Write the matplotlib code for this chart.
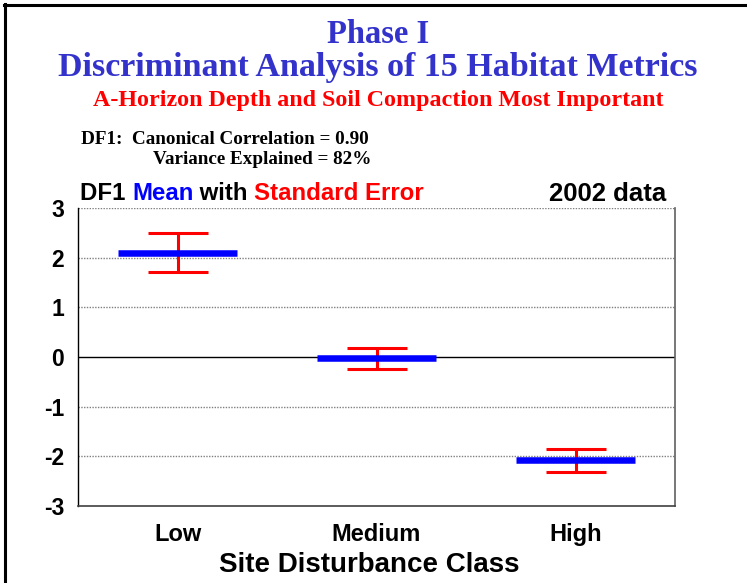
import matplotlib
matplotlib.use("Agg")
import matplotlib.pyplot as plt
from matplotlib.lines import Line2D

categories = ["Low", "Medium", "High"]
means = [2.10, -0.03, -2.08]
std_errors = [0.39, 0.22, 0.23]
yticks = [-3, -2, -1, 0, 1, 2, 3]

W, H = 747, 583
fig = plt.figure(figsize=(W / 100, H / 100), dpi=100)
fig.patch.set_facecolor("white")

def fx(px):
    return px / W

def fy(py):
    return 1 - py / H

serif = "Liberation Serif"
sans = "Liberation Sans"
title_blue = "#3333CC"

# border
fig.add_artist(Line2D([fx(5), fx(5)], [fy(4), 0], color="black", lw=2.2, transform=fig.transFigure))
fig.add_artist(Line2D([fx(4), 1], [fy(5), fy(5)], color="black", lw=2.2, transform=fig.transFigure))

fig.text(fx(378), fy(43), "Phase I", ha="center", va="baseline", family=serif,
         weight="bold", size=23.5, color=title_blue)
fig.text(fx(378), fy(76), "Discriminant Analysis of 15 Habitat Metrics", ha="center",
         va="baseline", family=serif, weight="bold", size=24.5, color=title_blue)
fig.text(fx(378), fy(106), "A-Horizon Depth and Soil Compaction Most Important",
         ha="center", va="baseline", family=serif, weight="bold", size=17.3, color="red")
fig.text(fx(81), fy(144), "DF1:  Canonical Correlation = 0.90", ha="left",
         va="baseline", family=serif, weight="bold", size=13.8, color="black")
fig.text(fx(153), fy(164), "Variance Explained = 82%", ha="left",
         va="baseline", family=serif, weight="bold", size=13.8, color="black")

# mixed color header
fig.canvas.draw()
renderer = fig.canvas.get_renderer()
x = fx(80)
for part, col in [("DF1 ", "black"), ("Mean", "blue"), (" with ", "black"),
                  ("Standard Error", "red")]:
    t = fig.text(x, fy(200), part, ha="left", va="baseline", family=sans,
                 weight="bold", size=17.3, color=col)
    bb = t.get_window_extent(renderer=renderer)
    x += bb.width / W
fig.text(fx(666), fy(201), "2002 data", ha="right", va="baseline", family=sans,
         weight="bold", size=18.5, color="black")

ax = fig.add_axes([fx(78), fy(506), fx(675) - fx(78), (506 - 208) / H])
ax.set_xlim(-0.5, len(categories) - 0.5)
ax.set_ylim(-3, 3)

for yv in [-2, -1, 1, 2, 3]:
    ax.axhline(yv, color="#808080", lw=1, ls=(0, (1, 1)), zorder=1)
ax.axhline(0, color="black", lw=1, zorder=1)

xs = list(range(len(categories)))
ax.errorbar(xs, means, yerr=std_errors, fmt="none", ecolor="red", elinewidth=2.2,
            capsize=21.5, capthick=2.2, zorder=2)
for i, m in enumerate(means):
    ax.hlines(m, i - 0.3, i + 0.3, color="blue", lw=4.7, zorder=3)

ax.set_xticks(xs)
ax.set_xticklabels(categories, family=sans, weight="bold", size=17)
ax.set_yticks(yticks)
ax.set_yticklabels([str(v) for v in yticks], family=sans, weight="bold", size=16.5)
ax.tick_params(axis="both", length=0)
ax.tick_params(axis="x", pad=12)
ax.tick_params(axis="y", pad=10)
ax.set_xlabel("Site Disturbance Class", family=sans, weight="bold", size=20, labelpad=4)
ax.xaxis.label.set_horizontalalignment("center")
ax.xaxis.set_label_coords((369 - 78) / 597, -0.155)

ax.spines["left"].set_color("black")
ax.spines["left"].set_linewidth(1)
ax.spines["bottom"].set_color("#404040")
ax.spines["bottom"].set_linewidth(1.2)
ax.spines["right"].set_color("#606060")
ax.spines["right"].set_linewidth(1.2)
ax.spines["top"].set_visible(False)

fig.savefig("out.png", dpi=100, facecolor="white")
